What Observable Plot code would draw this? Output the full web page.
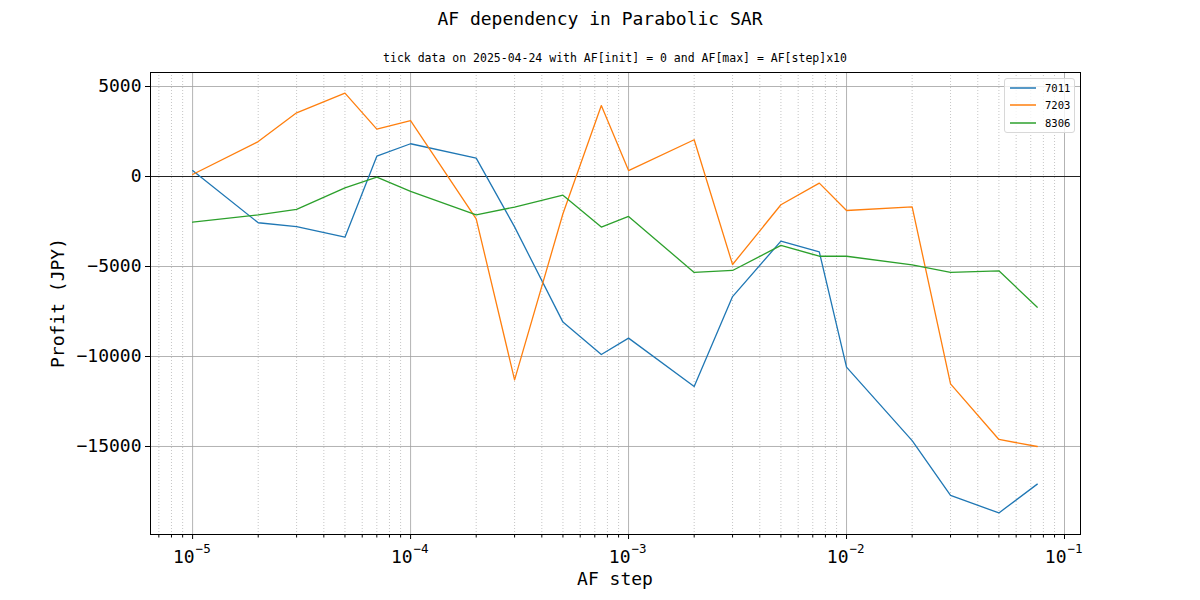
<!DOCTYPE html>
<html><head><meta charset="utf-8">
<script src="https://cdn.jsdelivr.net/npm/d3@7"></script>
<script src="https://cdn.jsdelivr.net/npm/@observablehq/plot@0.6"></script>
<style>
body{margin:0;background:#fff;font-family:"DejaVu Sans Mono",monospace;color:#000;}
#wrap{position:relative;width:1200px;height:600px;}
#chart{position:absolute;left:0;top:0;}
.lbl{position:absolute;white-space:nowrap;line-height:1;}
#title{left:0;width:1200px;top:10px;text-align:center;font-size:18px;}
#subtitle{left:315px;width:600px;top:53px;text-align:center;font-size:11.5px;}
#xlabel{left:315px;width:600px;top:570px;text-align:center;font-size:18px;}
#ylabel{left:58px;top:303px;font-size:18px;transform:translate(-50%,-50%) rotate(-90deg);}
#legend{position:absolute;left:1004px;top:78px;width:69px;height:53px;border:1px solid #d8d8d8;border-radius:3px;background:rgba(255,255,255,0.8);font-size:10.5px;}
.row{position:absolute;left:5px;height:12px;display:flex;align-items:center;}
.sw{display:block;margin-right:9px;}
</style></head><body>
<div id="wrap">
<div id="chart"></div>
<div class="lbl" id="title">AF dependency in Parabolic SAR</div>
<div class="lbl" id="subtitle">tick data on 2025-04-24 with AF[init] = 0 and AF[max] = AF[step]x10</div>
<div class="lbl" id="xlabel">AF step</div>
<div class="lbl" id="ylabel">Profit (JPY)</div>
<div id="legend"></div>
</div>
<script>
const afSteps = [1e-5,2e-5,3e-5,5e-5,7e-5,1e-4,2e-4,3e-4,5e-4,7.5e-4,1e-3,2e-3,3e-3,5e-3,7.5e-3,1e-2,2e-2,3e-2,5e-2,7.5e-2];
const tickers = ["7011","7203","8306"];
const profit7011 = [330,-2570,-2780,-3370,1130,1820,1020,-2800,-8090,-9890,-8980,-11670,-6670,-3590,-4190,-10590,-14670,-17720,-18690,-17090];
const profit7203 = [110,1940,3540,4630,2630,3110,-2350,-11300,-2070,3940,330,2040,-4890,-1570,-370,-1890,-1690,-11520,-14610,-15000];
const profit8306 = [-2540,-2130,-1830,-630,-40,-830,-2130,-1700,-1040,-2810,-2220,-5330,-5220,-3830,-4430,-4430,-4910,-5330,-5240,-7260];
const colors = ["#1f77b4","#ff7f0e","#2ca02c"];
const majorX = [1e-5,1e-4,1e-3,1e-2,1e-1];
const yTicks = [5000,0,-5000,-10000,-15000];

const series = [profit7011, profit7203, profit8306];
const rows = [];
series.forEach((vals,i)=>vals.forEach((v,j)=>rows.push({ticker:tickers[i], af:afSteps[j], profit:v})));

const xDomain = [6.41e-6, 0.1184];
const minorX = [];
for (let d=-6; d<=-1; d++) for (let k=2; k<=9; k++) { const v = k*Math.pow(10,d); if (v>xDomain[0] && v<xDomain[1]) minorX.push(v); }

const expText = d => "\u2212" + Math.abs(Math.round(Math.log10(d)));
const fmtY = d => d < 0 ? "\u2212" + Math.abs(d) : String(d);

const chart = Plot.plot({
  width:1200, height:600,
  marginTop:72, marginBottom:66, marginLeft:150, marginRight:120,
  style:{fontFamily:"DejaVu Sans Mono, monospace", background:"white", color:"black"},
  x:{type:"log", domain:xDomain},
  y:{domain:[-19889,5778]},
  color:{domain:tickers, range:colors},
  marks:[
    Plot.ruleX(minorX, {stroke:"#b8b8b8", strokeWidth:0.8, strokeDasharray:"1,2"}),
    Plot.ruleX(majorX.filter(v=>v<xDomain[1]), {stroke:"#a0a0a0", strokeWidth:0.8}),
    Plot.ruleY(yTicks.filter(v=>v!==0), {stroke:"#a0a0a0", strokeWidth:0.8}),
    Plot.ruleY([0], {stroke:"#222", strokeWidth:1}),
    Plot.line(rows, {x:"af", y:"profit", z:"ticker", stroke:"ticker", strokeWidth:1.3}),
    Plot.frame({stroke:"black", strokeWidth:1}),
    Plot.axisX(majorX, {anchor:"bottom", tickFormat:()=>"", tickSize:5, label:null}),
    Plot.axisX(minorX, {anchor:"bottom", tickFormat:()=>"", tickSize:3.5, label:null}),
    Plot.text(majorX, {x:d=>d, frameAnchor:"bottom", text:()=>"10", textAnchor:"end", lineAnchor:"middle", dx:2, dy:23, fontSize:18}),
    Plot.text(majorX, {x:d=>d, frameAnchor:"bottom", text:expText, textAnchor:"start", lineAnchor:"middle", dx:3, dy:14, fontSize:12.5}),
    Plot.axisY(yTicks, {anchor:"left", tickFormat:fmtY, tickSize:5, tickPadding:4, fontSize:18, label:null})
  ]
});
document.getElementById("chart").appendChild(chart);

const legend = document.getElementById("legend");
tickers.forEach((t,i)=>{
  const r = document.createElement("div");
  r.className = "row";
  r.style.top = [3,20,38][i] + "px";
  r.innerHTML = `<svg class="sw" width="26" height="4"><line x1="0" x2="26" y1="2" y2="2" stroke="${colors[i]}" stroke-width="1.5"/></svg><span>${t}</span>`;
  legend.appendChild(r);
});
</script>
</body></html>
